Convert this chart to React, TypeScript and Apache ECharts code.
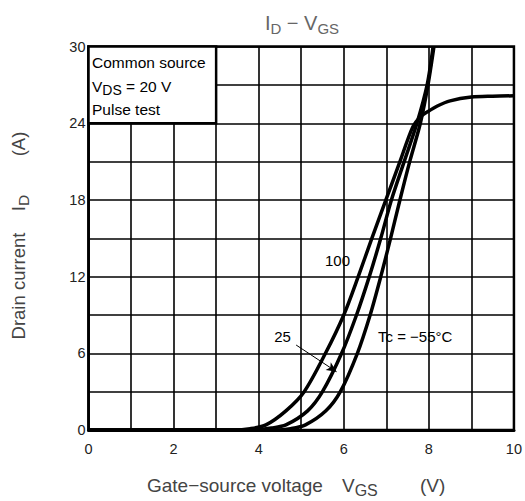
import React, { useEffect, useRef } from 'react';
import * as echarts from 'echarts';

// Gate-source voltage (V) and drain current (A) per case temperature
const tc100Vgs = [0, 3.4, 3.8, 4.17, 4.64, 5.07, 5.57, 6.0, 6.34, 6.66, 6.99, 7.32, 7.62, 7.8, 7.97, 8.2, 8.5, 9.0, 9.5, 10];
const tc100Id = [0, 0, 0.1, 0.4, 1.5, 3, 6, 9, 12, 15, 18, 21, 23.7, 24.5, 24.9, 25.35, 25.75, 26.05, 26.12, 26.15];

const tc25Vgs = [0, 3.9, 4.3, 4.64, 5.15, 5.5, 5.95, 6.3, 6.6, 6.87, 7.12, 7.42, 7.72, 7.96, 8.1];
const tc25Id = [0, 0, 0.15, 0.4, 1.5, 3, 6, 9, 12, 15, 18, 21, 24, 27, 30];

const tcM55Vgs = [0, 4.4, 4.75, 5.1, 5.58, 5.92, 6.32, 6.62, 6.87, 7.1, 7.32, 7.55, 7.8, 7.98, 8.12];
const tcM55Id = [0, 0, 0.1, 0.4, 1.5, 3, 6, 9, 12, 15, 18, 21, 24, 27, 30];

// Arrow for the "25" label (VGS, ID)
const arrowFrom = [4.88, 6.65];
const arrowTo = [5.83, 4.56];

const FONT = '"Liberation Sans", Arial, sans-serif';

function pairs(xs: number[], ys: number[]) {
  return xs.map((x, i) => [x, ys[i]]);
}

export default function App() {
  const ref = useRef<HTMLDivElement>(null);
  useEffect(() => {
    if (!ref.current) return;
    const chart = echarts.init(ref.current, undefined, { renderer: 'svg' });
    const lineStyle = { color: '#000', width: 3.5 };
    const base = {
      type: 'line' as const,
      showSymbol: false,
      smooth: 0.3,
      lineStyle,
      itemStyle: { color: '#000' },
      z: 5,
    };
    const sub = (size: number, fill: string, pad: number) => ({
      fontSize: size,
      fill,
      fontFamily: FONT,
      padding: [pad, 0, 0, 0],
    });
    const txt = (x: number, y: number, style: any, rotation = 0) => ({
      type: 'text',
      x,
      y,
      z: 100,
      rotation,
      silent: true,
      style,
    });
    chart.setOption({
      animation: false,
      backgroundColor: '#fff',
      grid: {
        left: 88.5,
        right: 9.5,
        top: 46.6,
        bottom: 71,
        show: true,
        borderColor: '#000',
        borderWidth: 2.5,
      },
      xAxis: {
        type: 'value',
        min: 0,
        max: 10,
        interval: 1,
        axisLine: { show: true, lineStyle: { color: '#000', width: 3 } },
        axisTick: { show: false },
        splitLine: { show: true, lineStyle: { color: '#000', width: 1.6 } },
        axisLabel: {
          margin: 11,
          color: '#222',
          fontFamily: FONT,
          fontSize: 14.5,
          formatter: (v: number) => (v % 2 === 0 ? String(v) : ''),
        },
      },
      yAxis: {
        type: 'value',
        min: 0,
        max: 30,
        interval: 3,
        axisLine: { show: true, lineStyle: { color: '#000', width: 2.5 } },
        axisTick: { show: false },
        splitLine: { show: true, lineStyle: { color: '#000', width: 1.6 } },
        axisLabel: {
          margin: 3,
          color: '#222',
          fontFamily: FONT,
          fontSize: 14.5,
          formatter: (v: number) => (v % 6 === 0 ? String(v) : ''),
        },
      },
      series: [
        {
          ...base,
          name: '100',
          data: pairs(tc100Vgs, tc100Id),
          markArea: {
            silent: true,
            itemStyle: { color: '#fff', borderColor: '#000', borderWidth: 2.5 },
            data: [[{ coord: [0, 30] }, { coord: [3, 24] }]],
          },
        },
        { ...base, name: '25', data: pairs(tc25Vgs, tc25Id) },
        {
          ...base,
          name: '-55',
          data: pairs(tcM55Vgs, tcM55Id),
          markLine: {
            silent: true,
            symbol: ['none', 'arrow'],
            symbolSize: [7, 10],
            label: { show: false },
            lineStyle: { color: '#000', width: 1, type: 'solid' },
            data: [[{ coord: arrowFrom }, { coord: arrowTo }]],
          },
        },
      ],
      graphic: [
        txt(302, 23, {
          text: 'I{s|D} − V{s|GS}',
          fill: '#666',
          font: `20px ${FONT}`,
          align: 'center',
          verticalAlign: 'middle',
          rich: { s: sub(15, '#666', 11) },
        }),
        txt(92, 62, { text: 'Common source', fill: '#000', font: `15.5px ${FONT}`, verticalAlign: 'middle' }),
        txt(92, 86, {
          text: 'V{s|DS} = 20 V',
          fill: '#000',
          font: `15.5px ${FONT}`,
          verticalAlign: 'middle',
          rich: { s: sub(14, '#000', 8) },
        }),
        txt(92, 109, { text: 'Pulse test', fill: '#000', font: `15.5px ${FONT}`, verticalAlign: 'middle' }),
        txt(337.5, 260, { text: '100', fill: '#000', font: `15px ${FONT}`, align: 'center', verticalAlign: 'middle' }),
        txt(282.5, 336, { text: '25', fill: '#000', font: `15px ${FONT}`, align: 'center', verticalAlign: 'middle' }),
        txt(378, 336, { text: 'Tc = −55°C', fill: '#000', font: `15px ${FONT}`, verticalAlign: 'middle' }),
        txt(147, 485, { text: 'Gate−source voltage', fill: '#444', font: `19px ${FONT}`, verticalAlign: 'middle' }),
        txt(342, 485, {
          text: 'V{s|GS}',
          fill: '#444',
          font: `19px ${FONT}`,
          verticalAlign: 'middle',
          rich: { s: sub(16, '#444', 10) },
        }),
        txt(420, 485, { text: '(V)', fill: '#444', font: `19px ${FONT}`, verticalAlign: 'middle' }),
        txt(
          18,
          286,
          { text: 'Drain current', fill: '#444', font: `18.5px ${FONT}`, align: 'center', verticalAlign: 'middle' },
          Math.PI / 2
        ),
        txt(
          18,
          203,
          {
            text: 'I{s|D}',
            fill: '#444',
            font: `18.5px ${FONT}`,
            align: 'center',
            verticalAlign: 'middle',
            rich: { s: sub(15.5, '#444', 10) },
          },
          Math.PI / 2
        ),
        txt(
          18,
          144,
          { text: '(A)', fill: '#444', font: `18.5px ${FONT}`, align: 'center', verticalAlign: 'middle' },
          Math.PI / 2
        ),
      ],
    });
    return () => chart.dispose();
  }, []);
  return <div ref={ref} style={{ width: 525, height: 501, position: 'absolute', left: 0, top: 0 }} />;
}
